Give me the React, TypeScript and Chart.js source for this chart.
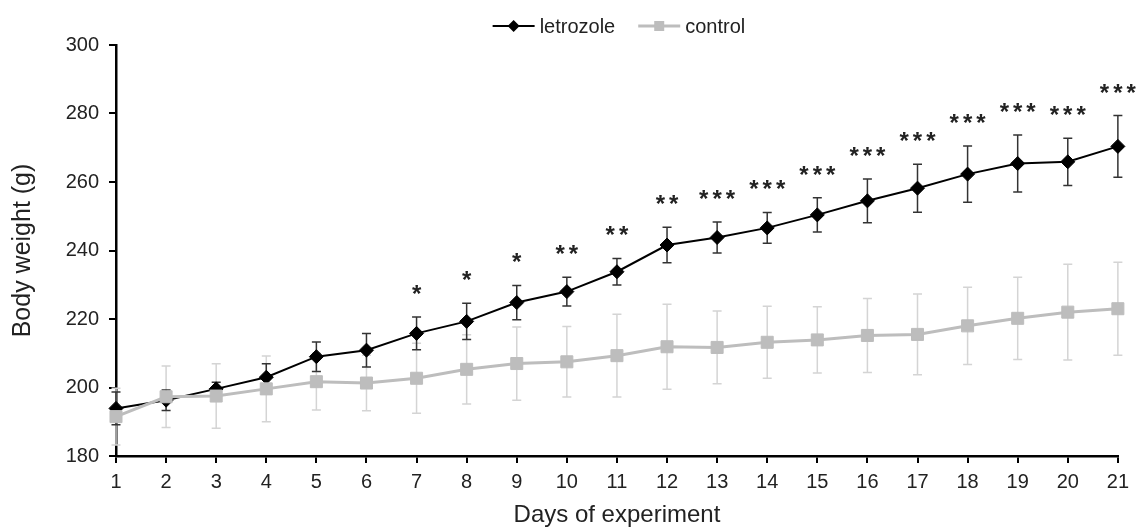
import React, { useEffect, useRef } from 'react';
import { Chart, registerables } from 'chart.js';

Chart.register(...registerables);

const days = ['1', '2', '3', '4', '5', '6', '7', '8', '9', '10', '11', '12', '13', '14', '15', '16', '17', '18', '19', '20', '21'];
const letrozole = [193.9, 196.3, 199.6, 203.0, 209.0, 210.9, 215.8, 219.3, 224.8, 228.0, 233.8, 241.6, 243.8, 246.6, 250.4, 254.5, 258.2, 262.3, 265.4, 265.9, 270.4];
const letrozoleErr = [4.8, 3.0, 1.9, 3.9, 4.3, 4.9, 4.8, 5.3, 5.0, 4.2, 3.9, 5.2, 4.5, 4.5, 5.0, 6.4, 7.0, 8.2, 8.3, 6.9, 9.0];
const control = [191.5, 197.3, 197.5, 199.6, 201.7, 201.3, 202.7, 205.3, 207.0, 207.5, 209.3, 211.9, 211.7, 213.2, 213.9, 215.2, 215.5, 218.0, 220.2, 222.0, 223.0];
const controlErr = [8.3, 9.0, 9.4, 9.6, 8.3, 8.1, 10.2, 10.1, 10.7, 10.3, 12.1, 12.4, 10.6, 10.5, 9.7, 10.8, 11.8, 11.3, 12.0, 14.0, 13.6];
const significance = ['', '', '', '', '', '', '*', '*', '*', '**', '**', '**', '***', '***', '***', '***', '***', '***', '***', '***', '***'];
const yTicks = [180, 200, 220, 240, 260, 280, 300];

const FONT = "'Liberation Sans', Arial, sans-serif";
const TEXT = '#222';
const BLACK = '#000';
const GREY = '#bdbdbd';
const GREY_ERR = '#d4d4d4';

export default function App() {
  const ref = useRef<HTMLCanvasElement>(null);

  useEffect(() => {
    if (!ref.current) return;

    const errorBars = {
      id: 'errorBars',
      beforeDatasetsDraw(chart: any) {
        const { ctx } = chart;
        const xs = chart.scales.x;
        const ys = chart.scales.y;
        const sets = [
          { vals: control, errs: controlErr, color: GREY_ERR },
          { vals: letrozole, errs: letrozoleErr, color: '#333' },
        ];
        ctx.save();
        sets.forEach((s) => {
          ctx.strokeStyle = s.color;
          ctx.lineWidth = 1.5;
          s.vals.forEach((v, i) => {
            const x = xs.getPixelForValue(i);
            const yt = ys.getPixelForValue(v + s.errs[i]);
            const yb = ys.getPixelForValue(v - s.errs[i]);
            ctx.beginPath();
            ctx.moveTo(x, yt);
            ctx.lineTo(x, yb);
            ctx.moveTo(x - 4.5, yt);
            ctx.lineTo(x + 4.5, yt);
            ctx.moveTo(x - 4.5, yb);
            ctx.lineTo(x + 4.5, yb);
            ctx.stroke();
          });
        });
        ctx.restore();
      },
    };

    const stars = {
      id: 'stars',
      afterDatasetsDraw(chart: any) {
        const { ctx } = chart;
        const xs = chart.scales.x;
        const ys = chart.scales.y;
        ctx.save();
        ctx.fillStyle = TEXT;
        ctx.font = `bold 24px ${FONT}`;
        ctx.textAlign = 'center';
        ctx.textBaseline = 'alphabetic';
        const spacing = 4;
        (ctx as any).letterSpacing = `${spacing}px`;
        significance.forEach((s, i) => {
          if (!s) return;
          const x = xs.getPixelForValue(i) + spacing / 2;
          const top = ys.getPixelForValue(letrozole[i] + letrozoleErr[i]);
          ctx.fillText(s, x, top - 15);
        });
        ctx.restore();
      },
    };

    const legendPlugin = {
      id: 'lineLegend',
      afterDraw(chart: any) {
        const { ctx, chartArea } = chart;
        ctx.save();
        ctx.font = `20px ${FONT}`;
        const items = chart.data.datasets.map((d: any) => ({
          label: d.label,
          color: d.borderColor,
          lw: d.borderWidth,
          style: d.pointStyle,
        }));
        const sample = 42;
        const gap = 5;
        const itemGap = 23;
        const widths = items.map((it: any) => sample + gap + ctx.measureText(it.label).width);
        const total = widths.reduce((a: number, b: number) => a + b, 0) + itemGap * (items.length - 1);
        let x = (chartArea.left + chartArea.right) / 2 - total / 2 + 2;
        const y = 26;
        items.forEach((it: any, k: number) => {
          ctx.strokeStyle = it.color;
          ctx.lineWidth = it.lw;
          ctx.beginPath();
          ctx.moveTo(x, y);
          ctx.lineTo(x + sample, y);
          ctx.stroke();
          const cx = x + sample / 2;
          ctx.fillStyle = it.color;
          ctx.beginPath();
          if (it.style === 'rectRot') {
            const r = 6;
            ctx.moveTo(cx - r, y);
            ctx.lineTo(cx, y - r);
            ctx.lineTo(cx + r, y);
            ctx.lineTo(cx, y + r);
            ctx.closePath();
          } else {
            const h = 5;
            ctx.rect(cx - h, y - h, 2 * h, 2 * h);
          }
          ctx.fill();
          ctx.fillStyle = TEXT;
          ctx.textAlign = 'left';
          ctx.textBaseline = 'middle';
          ctx.fillText(it.label, x + sample + gap, y + 1);
          x += widths[k] + itemGap;
        });
        ctx.restore();
      },
    };

    const chart = new Chart(ref.current, {
      type: 'line',
      data: {
        labels: days,
        datasets: [
          {
            label: 'letrozole',
            data: letrozole,
            borderColor: BLACK,
            backgroundColor: BLACK,
            borderWidth: 2,
            pointStyle: 'rectRot',
            pointRadius: 7,
            pointHoverRadius: 7,
            pointBackgroundColor: BLACK,
            pointBorderColor: BLACK,
            pointBorderWidth: 1,
            tension: 0,
            order: 1,
          },
          {
            label: 'control',
            data: control,
            borderColor: GREY,
            backgroundColor: GREY,
            borderWidth: 3,
            pointStyle: 'rect',
            pointRadius: 8.5,
            pointHoverRadius: 8.5,
            pointBackgroundColor: GREY,
            pointBorderColor: GREY,
            pointBorderWidth: 1,
            tension: 0,
            order: 0,
          },
        ],
      },
      options: {
        animation: false,
        responsive: true,
        maintainAspectRatio: false,
        layout: { padding: { top: 45, right: 17, left: 0, bottom: 0 } },
        plugins: {
          legend: { display: false },
          tooltip: { enabled: false },
        },
        scales: {
          x: {
            type: 'category',
            offset: false,
            grid: { drawOnChartArea: false, drawTicks: true, tickLength: 7, color: BLACK, lineWidth: 2 },
            border: { display: true, color: BLACK, width: 2.5 },
            ticks: { color: TEXT, font: { size: 20, family: FONT }, padding: 7, maxRotation: 0, autoSkip: false },
            title: { display: true, text: 'Days of experiment', color: TEXT, font: { size: 24, family: FONT }, padding: { top: 0, bottom: 0 } },
            afterFit: (s: any) => { s.height = 74; },
          },
          y: {
            type: 'linear',
            min: 180,
            max: 300,
            afterBuildTicks: (s: any) => { s.ticks = yTicks.map((v) => ({ value: v })); },
            grid: { drawOnChartArea: false, drawTicks: true, tickLength: 7, color: BLACK, lineWidth: 2 },
            border: { display: true, color: BLACK, width: 2.5 },
            ticks: { color: TEXT, font: { size: 20, family: FONT }, padding: 10 },
            title: { display: true, text: 'Body weight (g)', color: TEXT, font: { size: 25, family: FONT }, padding: { top: 8, bottom: 0 } },
            afterFit: (s: any) => { s.width = 116; },
          },
        },
      },
      plugins: [errorBars, stars, legendPlugin],
    } as any);

    return () => chart.destroy();
  }, []);

  return (
    <div style={{ position: 'fixed', left: 0, top: 0, width: 1136, height: 530, background: '#fff' }}>
      <canvas ref={ref} />
    </div>
  );
}
